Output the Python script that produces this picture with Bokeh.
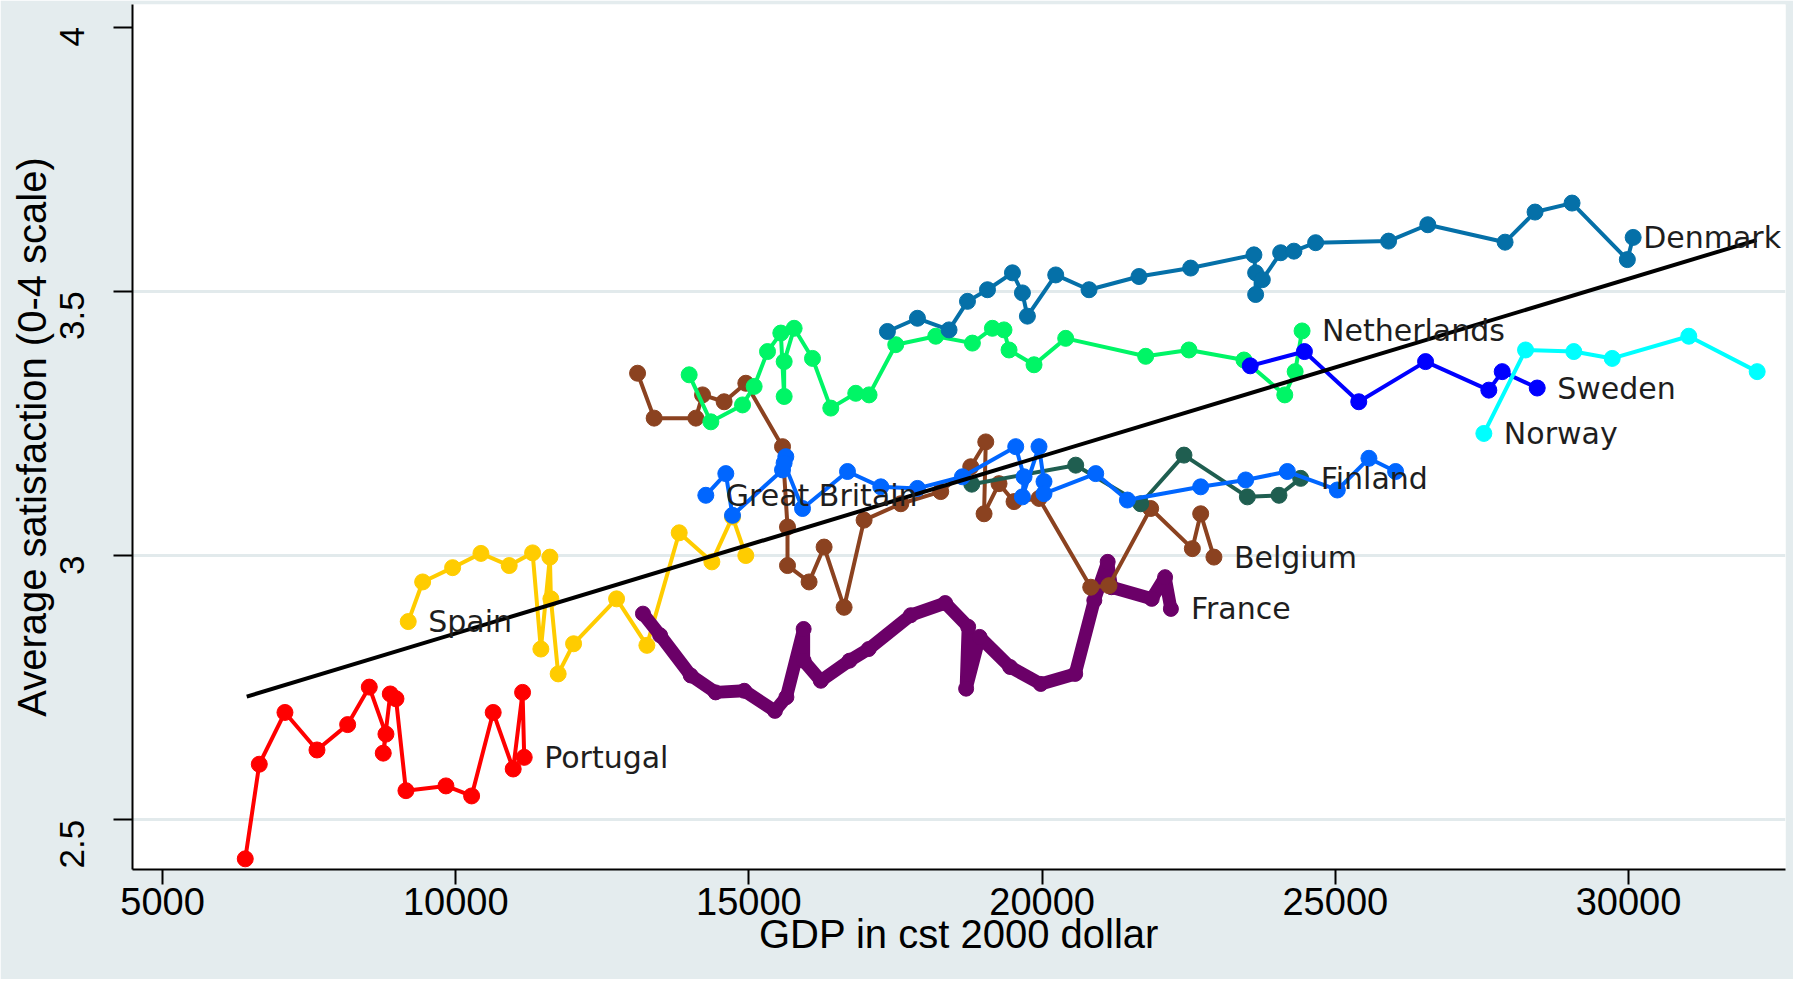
import math
from bokeh.plotting import figure
from bokeh.models import Range1d, FixedTicker, LabelSet, ColumnDataSource
from bokeh.core.properties import value
from bokeh.embed import file_html
from bokeh.resources import INLINE

# ---------------- data (GDP in constant 2000 dollars, average satisfaction) ----------------
por_gdp = [6411, 6650, 7088, 7634, 8157, 8526, 8810, 8764, 8884, 8981, 9151, 9833, 10271, 10639, 10980, 11140, 11168]
por_sat = [2.426, 2.605, 2.703, 2.632, 2.680, 2.751, 2.662, 2.626, 2.738, 2.729, 2.555, 2.564, 2.545, 2.703, 2.596, 2.741, 2.618]

esp_gdp = [9190, 9436, 9947, 10430, 10912, 11311, 11452, 11606, 11623, 11747, 12010, 12743, 13260, 13811, 14368, 14720, 14947]
esp_sat = [2.875, 2.950, 2.977, 3.004, 2.981, 3.005, 2.823, 2.997, 2.918, 2.776, 2.833, 2.918, 2.830, 3.043, 2.988, 3.073, 3.000]

fra_gdp = [13193, 13486, 14008, 14432, 14921, 15443, 15639, 15933, 15933, 16226, 16715, 17042, 17760, 18347,
           18739, 18704, 18933, 19455, 19976, 20564, 20890, 21118, 21183, 21869, 22097, 22196]
fra_sat = [2.890, 2.849, 2.773, 2.741, 2.744, 2.706, 2.732, 2.861, 2.801, 2.763, 2.801, 2.823, 2.887, 2.910,
           2.865, 2.748, 2.846, 2.789, 2.757, 2.776, 2.915, 2.988, 2.940, 2.918, 2.959, 2.899]

bel_gdp = [13101, 13384, 14095, 14209, 14577, 14947, 15573, 15658, 15658, 16026, 16282, 16623, 16964, 17590,
           18271, 18783, 19039, 19010, 19265, 19521, 19947, 20829, 21140, 21851, 22562, 22704, 22930]
bel_sat = [3.345, 3.260, 3.260, 3.304, 3.291, 3.326, 3.206, 3.054, 2.981, 2.950, 3.016, 2.902, 3.067, 3.098,
           3.121, 3.168, 3.215, 3.079, 3.136, 3.102, 3.108, 2.940, 2.943, 3.089, 3.013, 3.079, 2.997]

fin_gdp = [18800, 20573, 21681, 22419, 23500, 24039, 24409]
fin_sat = [3.135, 3.171, 3.098, 3.190, 3.111, 3.114, 3.146]

gbr_gdp = [14265, 14606, 14720, 15573, 15629, 15600, 15914, 16681, 17249, 17874, 18641, 19550, 19692, 19664,
           19947, 20032, 20032, 20914, 21454, 22704, 23471, 24182, 25034, 25573, 26028]
gbr_sat = [3.114, 3.155, 3.076, 3.162, 3.187, 3.175, 3.089, 3.159, 3.130, 3.127, 3.149, 3.206, 3.149, 3.111,
           3.206, 3.140, 3.117, 3.155, 3.105, 3.130, 3.143, 3.159, 3.124, 3.184, 3.159]

ned_gdp = [13981, 14351, 14891, 15089, 15317, 15544, 15601, 15601, 15771, 16084, 16396, 16822, 17049, 17504,
           18186, 18811, 19152, 19350, 19436, 19862, 20402, 21766, 22504, 23442, 24138, 24315, 24433]
ned_sat = [3.342, 3.253, 3.285, 3.320, 3.386, 3.421, 3.301, 3.367, 3.430, 3.373, 3.279, 3.307, 3.304, 3.399,
           3.415, 3.402, 3.430, 3.427, 3.389, 3.361, 3.411, 3.377, 3.389, 3.370, 3.304, 3.348, 3.425]

den_gdp = [17362, 17874, 18413, 18727, 19068, 19494, 19664, 19749, 20232, 20800, 21652, 22533, 23612, 23641,
           23641, 23755, 24068, 24294, 24664, 25908, 26577, 27895, 28406, 29037, 29980, 30079]
den_sat = [3.424, 3.449, 3.427, 3.481, 3.503, 3.535, 3.497, 3.453, 3.531, 3.503, 3.528, 3.544, 3.569, 3.535,
           3.494, 3.522, 3.573, 3.576, 3.592, 3.595, 3.626, 3.593, 3.650, 3.667, 3.560, 3.602]

swe_gdp = [23549, 24473, 25400, 26539, 27618, 27846, 28443]
swe_sat = [3.359, 3.386, 3.291, 3.367, 3.313, 3.348, 3.317]

nor_gdp = [27533, 28244, 29067, 29722, 31028, 32194]
nor_sat = [3.231, 3.389, 3.386, 3.373, 3.415, 3.348]

fit_gdp = [6436, 32183]
fit_sat = [2.733, 3.597]

x_ticks = [5000, 10000, 15000, 20000, 25000, 30000]
y_ticks = [2.5, 3, 3.5, 4]

# name, colour, x, y, index of labelled point, line width, marker size
series = [
    ("Portugal", "#ff0000", por_gdp, por_sat, -1, 4, 16),
    ("Spain", "#ffcc00", esp_gdp, esp_sat, 0, 4, 16),
    ("France", "#6b0068", fra_gdp, fra_sat, -1, 13, 15),
    ("Belgium", "#8b4220", bel_gdp, bel_sat, -1, 4, 16),
    ("Finland", "#1f5e50", fin_gdp, fin_sat, -1, 4, 16),
    ("Great Britain", "#0066ff", gbr_gdp, gbr_sat, 0, 4, 16),
    ("Netherlands", "#00f566", ned_gdp, ned_sat, -1, 4, 16),
    ("Denmark", "#0570a8", den_gdp, den_sat, -1, 4, 16),
    ("Sweden", "#0000ff", swe_gdp, swe_sat, -1, 4, 16),
    ("Norway", "#00ffff", nor_gdp, nor_sat, 0, 4, 16),
]

FONT = "Liberation Sans"
WIDE = "DejaVu Sans"
BG = "#e4ecee"

p = figure(width=1793, height=979, output_backend="svg", toolbar_location=None,
           x_range=Range1d(4488, 32677), y_range=Range1d(2.4058, 4.0428),
           min_border_left=132, min_border_right=8, min_border_top=4, min_border_bottom=110)
p.background_fill_color = "white"
p.border_fill_color = BG
p.outline_line_color = None

p.xaxis.ticker = FixedTicker(ticks=x_ticks)
p.yaxis.ticker = FixedTicker(ticks=y_ticks)
p.xaxis.minor_tick_line_color = None
p.yaxis.minor_tick_line_color = None
for ax in (p.xaxis, p.yaxis):
    ax.axis_line_color = "black"
    ax.axis_line_width = 2
    ax.major_tick_line_color = "black"
    ax.major_tick_line_width = 2
    ax.major_tick_in = 0
    ax.major_label_text_color = "black"
    ax.axis_label_text_font_style = "normal"
    ax.axis_label_text_color = "black"

p.xaxis.major_label_text_font = FONT
p.xaxis.major_label_text_font_size = "38px"
p.xaxis.major_tick_out = 15
p.xaxis.major_label_standoff = 3
p.xaxis.axis_label = "GDP in cst 2000 dollar"
p.xaxis.axis_label_text_font = FONT
p.xaxis.axis_label_text_font_size = "40px"
p.xaxis.axis_label_standoff = -6

p.yaxis.major_label_text_font = FONT
p.yaxis.major_label_text_font_size = "35px"
p.yaxis.axis_label_text_font = FONT
p.yaxis.axis_label_text_font_size = "40px"
p.yaxis.major_tick_out = 19
p.yaxis.major_label_standoff = 41
p.yaxis.axis_label_standoff = -8
p.yaxis.major_label_orientation = math.pi / 2
p.yaxis.axis_label = "Average satisfaction (0-4 scale)"

p.xgrid.visible = False
p.ygrid.ticker = FixedTicker(ticks=[2.5, 3, 3.5])
p.ygrid.grid_line_color = "#e2eaec"
p.ygrid.grid_line_width = 3

for name, color, xs, ys, li, lw, ms in series:
    p.line(xs, ys, line_color=color, line_width=lw)
    p.scatter(xs, ys, marker="circle", size=ms, fill_color=color, line_color=color)

lab_src = ColumnDataSource(dict(
    x=[s[2][s[4]] for s in series],
    y=[s[3][s[4]] for s in series],
    t=[s[0] for s in series],
    dx=[10 if s[0] == "Denmark" else 20 for s in series],
))
p.add_layout(LabelSet(x="x", y="y", text="t", source=lab_src, x_offset="dx",
                      text_baseline="middle", text_align="left", text_font=value(WIDE),
                      text_font_size="30px", text_color="#1e1e1e"))

p.line(fit_gdp, fit_sat, line_color="black", line_width=4)

open("out.html", "w").write(file_html(p, INLINE))
